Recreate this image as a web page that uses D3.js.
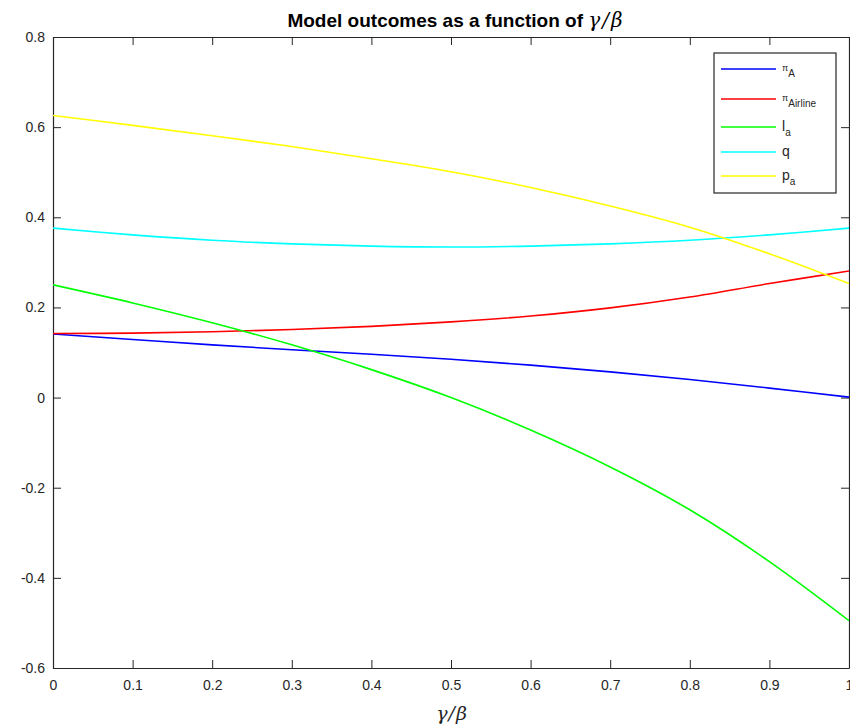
<!DOCTYPE html>
<html>
<head>
<meta charset="utf-8">
<script src="https://cdn.jsdelivr.net/npm/d3@7"></script>
<style>
  body { margin: 0; background: #fff; }
  svg { display: block; font-family: "Liberation Sans", Arial, sans-serif; }
</style>
</head>
<body>
<svg width="850" height="727"></svg>
<script>
// values at gamma/beta = 0, 0.1, ..., 1
var ratio = [0, 0.1, 0.2, 0.3, 0.4, 0.5, 0.6, 0.7, 0.8, 0.9, 1];
var piA = [0.141, 0.129, 0.117, 0.106, 0.096, 0.085, 0.072, 0.057, 0.040, 0.021, 0.001];
var piAirline = [0.142, 0.143, 0.146, 0.151, 0.158, 0.168, 0.181, 0.199, 0.223, 0.253, 0.281];
var la = [0.250, 0.210, 0.166, 0.117, 0.062, 0.000, -0.072, -0.154, -0.249, -0.364, -0.495];
var q = [0.376, 0.361, 0.349, 0.341, 0.336, 0.334, 0.336, 0.341, 0.349, 0.361, 0.376];
var pa = [0.626, 0.604, 0.581, 0.557, 0.530, 0.501, 0.466, 0.425, 0.378, 0.319, 0.253];

var xTicks = [0, 0.1, 0.2, 0.3, 0.4, 0.5, 0.6, 0.7, 0.8, 0.9, 1];
var yTicks = [-0.6, -0.4, -0.2, 0, 0.2, 0.4, 0.6, 0.8];

var series = [
  { name: "A", sym: "\u03c0", vals: piA, color: "#0000ff" },
  { name: "Airline", sym: "\u03c0", vals: piAirline, color: "#ff0000" },
  { name: "a", sym: "l", vals: la, color: "#00ff00" },
  { name: "", sym: "q", vals: q, color: "#00ffff" },
  { name: "a", sym: "p", vals: pa, color: "#ffff00" }
];

var svg = d3.select("svg"),
    plotLeft = 53, plotRight = 849, plotTop = 37, plotBottom = 668,
    axisColor = "#262626";

var x = d3.scaleLinear().domain([0, 1]).range([plotLeft, plotRight]);
var y = d3.scaleLinear().domain([-0.6, 0.8]).range([plotBottom, plotTop]);

svg.append("clipPath").attr("id", "plotclip")
  .append("rect").attr("x", plotLeft).attr("y", plotTop)
  .attr("width", plotRight - plotLeft).attr("height", plotBottom - plotTop);

var fmt = function(d) { return String(+d.toFixed(1)); };

// axes with ticks pointing inward, box on all four sides
var gx = svg.append("g").attr("transform", "translate(0," + plotBottom + ")")
  .call(d3.axisBottom(x).tickValues(xTicks).tickSizeInner(-8).tickSizeOuter(0).tickPadding(12).tickFormat(fmt));
var gxTop = svg.append("g").attr("transform", "translate(0," + plotTop + ")")
  .call(d3.axisTop(x).tickValues(xTicks).tickSizeInner(-8).tickSizeOuter(0).tickFormat(""));
var gy = svg.append("g").attr("transform", "translate(" + plotLeft + ",0)")
  .call(d3.axisLeft(y).tickValues(yTicks).tickSizeInner(-8).tickSizeOuter(0).tickPadding(8).tickFormat(fmt));
var gyRight = svg.append("g").attr("transform", "translate(" + plotRight + ",0)")
  .call(d3.axisRight(y).tickValues(yTicks).tickSizeInner(-8).tickSizeOuter(0).tickFormat(""));

[gx, gxTop, gy, gyRight].forEach(function(g) {
  g.select(".domain").attr("stroke", axisColor).attr("stroke-width", 1.2);
  g.selectAll(".tick line").attr("stroke", axisColor);
  g.selectAll(".tick text").attr("fill", axisColor).attr("font-size", 14)
    .attr("font-family", "'Liberation Sans', Arial, sans-serif");
});

// curves
var line = d3.line()
  .x(function(d) { return x(d[0]); })
  .y(function(d) { return y(d[1]); })
  .curve(d3.curveCatmullRom);

svg.append("g").attr("clip-path", "url(#plotclip)")
  .selectAll("path").data(series).enter().append("path")
    .attr("fill", "none")
    .attr("stroke", function(d) { return d.color; })
    .attr("stroke-width", 1.6)
    .attr("d", function(d) { return line(ratio.map(function(r, i) { return [r, d.vals[i]]; })); });

// title
var title = svg.append("text").attr("x", 456).attr("y", 27)
  .attr("text-anchor", "middle").attr("font-size", 19).attr("font-weight", "bold").attr("fill", "#000");
title.append("tspan").text("Model outcomes as a function of ");
title.append("tspan").attr("font-family", "'DejaVu Serif', serif").attr("font-style", "italic")
  .attr("font-weight", "normal").attr("font-size", 20).attr("letter-spacing", 2).text("\u03b3/\u03b2");

// x label
svg.append("text").attr("x", 452).attr("y", 720).attr("text-anchor", "middle")
  .attr("font-family", "'DejaVu Serif', serif").attr("font-style", "italic")
  .attr("font-size", 19).attr("letter-spacing", 1).attr("fill", axisColor).text("\u03b3/\u03b2");

// legend
var legendY = [69, 99, 127, 152, 176];
var legend = svg.append("g");
legend.append("rect").attr("x", 714).attr("y", 53).attr("width", 122).attr("height", 140)
  .attr("fill", "#fff").attr("stroke", axisColor).attr("stroke-width", 1.2);

var items = legend.selectAll("g.item").data(series).enter().append("g").attr("class", "item")
  .attr("transform", function(d, i) { return "translate(0," + legendY[i] + ")"; });
items.append("line").attr("x1", 721).attr("x2", 776)
  .attr("stroke", function(d) { return d.color; }).attr("stroke-width", 1.6);
var lt = items.append("text").attr("x", 782).attr("fill", axisColor);
lt.append("tspan")
  .attr("font-size", function(d) { return d.sym === "\u03c0" ? 9 : 14; })
  .attr("dy", function(d) { return d.sym === "\u03c0" ? 2 : 4; })
  .text(function(d) { return d.sym; });
lt.append("tspan")
  .attr("font-size", 10)
  .attr("dy", function(d) { return d.sym === "\u03c0" ? 6 : 5; })
  .text(function(d) { return d.name; });
</script>
</body>
</html>
